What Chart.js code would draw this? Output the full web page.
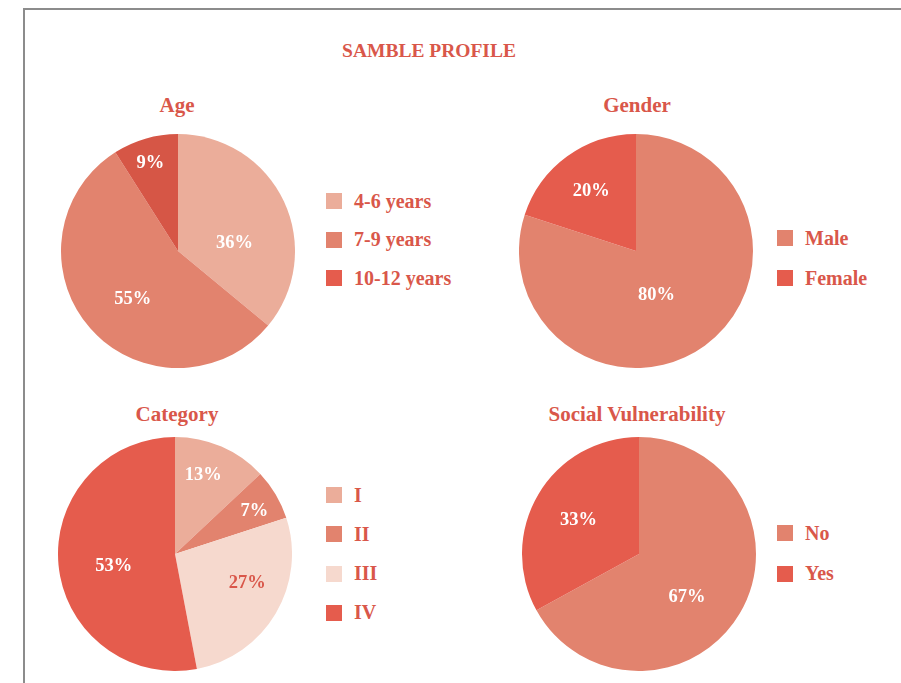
<!DOCTYPE html>
<html>
<head>
<meta charset="utf-8">
<script src="https://cdn.jsdelivr.net/npm/chart.js@4.4.1/dist/chart.umd.min.js"></script>
<style>
  body { margin: 0; background: #fff; width: 901px; height: 683px; position: relative; overflow: hidden;
         font-family: "Liberation Serif", "DejaVu Serif", serif; font-weight: bold; color: #d9574a; }
  .frame { position: absolute; left: 23px; top: 8px; width: 900px; height: 700px;
           border-left: 2px solid #8c8c8c; border-top: 2px solid #8c8c8c; }
  .title { position: absolute; transform: translateX(-50%); white-space: nowrap; font-size: 21px; line-height: 1; }
  .main { font-size: 19.5px; }
  .pie { position: absolute; width: 234px; height: 234px; }
  .legend { position: absolute; }
  .row { display: flex; align-items: center; font-size: 20px; white-space: nowrap; }
  .sw { width: 16px; height: 16px; margin-right: 12px; flex: none; }
</style>
</head>
<body>
<div class="frame"></div>
<div class="title main" style="left:429px;top:41px">SAMBLE PROFILE</div>

<div class="title" style="left:177px;top:95px">Age</div>
<div class="title" style="left:637px;top:95px">Gender</div>
<div class="title" style="left:177px;top:404px">Category</div>
<div class="title" style="left:637px;top:404px">Social Vulnerability</div>

<div class="pie" style="left:61px;top:134px"><canvas id="ageChart"></canvas></div>
<div class="pie" style="left:519px;top:134px"><canvas id="genderChart"></canvas></div>
<div class="pie" style="left:58px;top:437px"><canvas id="categoryChart"></canvas></div>
<div class="pie" style="left:522px;top:437px"><canvas id="socialChart"></canvas></div>

<div class="legend" id="ageLegend" style="left:326px;top:193px"></div>
<div class="legend" id="genderLegend" style="left:777px;top:230px"></div>
<div class="legend" id="categoryLegend" style="left:326px;top:487px"></div>
<div class="legend" id="socialLegend" style="left:777px;top:525px"></div>

<script>
// data (percent)
const ageLabels = ['4-6 years', '7-9 years', '10-12 years'];
const ageValues = [36, 55, 9];

const genderLabels = ['Male', 'Female'];
const genderValues = [80, 20];

const categoryLabels = ['I', 'II', 'III', 'IV'];
const categoryValues = [13, 7, 27, 53];

const socialLabels = ['No', 'Yes'];
const socialValues = [67, 33];

// colours
const light = '#ebad9a', mid = '#e2836e', red = '#e55c4d', pale = '#f6d9ce', dark = '#d65646';
const textRed = '#d9574a';

// draws the % inside each slice (radius = fraction of outer radius, shift = degrees off the slice middle)
const sliceLabels = {
    id: 'sliceLabels',
    afterDatasetsDraw(chart, args, opts) {
        const ctx = chart.ctx;
        const meta = chart.getDatasetMeta(0);
        const data = chart.data.datasets[0].data;
        ctx.save();
        ctx.font = 'bold 18.5px "Liberation Serif", serif';
        ctx.textAlign = 'center';
        ctx.textBaseline = 'middle';
        meta.data.forEach((arc, i) => {
            const p = arc.getProps(['x', 'y', 'startAngle', 'endAngle', 'outerRadius'], true);
            const a = (p.startAngle + p.endAngle) / 2 + (opts.shift[i] || 0) * Math.PI / 180;
            const r = p.outerRadius * (opts.radius[i] || 0.6);
            ctx.fillStyle = (opts.colors && opts.colors[i]) || '#fff';
            ctx.fillText(data[i] + '%', p.x + Math.cos(a) * r, p.y + Math.sin(a) * r + 2);
        });
        ctx.restore();
    }
};

function makePie(id, labels, values, colors, labelRadius, labelShift, labelColors) {
    new Chart(document.getElementById(id), {
        type: 'pie',
        data: {
            labels: labels,
            datasets: [{ data: values, backgroundColor: colors, borderWidth: 0 }]
        },
        options: {
            responsive: true,
            maintainAspectRatio: false,
            animation: false,
            layout: { padding: 0 },
            plugins: {
                legend: { display: false },
                tooltip: { enabled: false },
                sliceLabels: { radius: labelRadius, shift: labelShift, colors: labelColors }
            }
        },
        plugins: [sliceLabels]
    });
}

function makeLegend(id, labels, colors, rowH) {
    const el = document.getElementById(id);
    labels.forEach((lab, i) => {
        const row = document.createElement('div');
        row.className = 'row';
        row.style.height = '16px';
        row.style.marginBottom = (rowH - 16) + 'px';
        const sw = document.createElement('span');
        sw.className = 'sw';
        sw.style.background = colors[i];
        const tx = document.createElement('span');
        tx.textContent = lab;
        row.appendChild(sw);
        row.appendChild(tx);
        el.appendChild(row);
    });
}

makePie('ageChart', ageLabels, ageValues, [light, mid, dark], [0.49, 0.55, 0.8], [15, -4, -1]);
makePie('genderChart', genderLabels, genderValues, [mid, red], [0.4, 0.65], [10, 0]);
makePie('categoryChart', categoryLabels, categoryValues, [light, mid, pale, red], [0.73, 0.78, 0.66, 0.53],
        [-4, 1, -10, -4], ['#fff', '#fff', textRed, '#fff']);
makePie('socialChart', socialLabels, socialValues, [mid, red], [0.54, 0.6], [10, 0]);

makeLegend('ageLegend', ageLabels, [light, mid, red], 38.5);
makeLegend('genderLegend', genderLabels, [mid, red], 40);
makeLegend('categoryLegend', categoryLabels, [light, mid, pale, red], 39.3);
makeLegend('socialLegend', socialLabels, [mid, red], 40.5);
</script>
</body>
</html>
